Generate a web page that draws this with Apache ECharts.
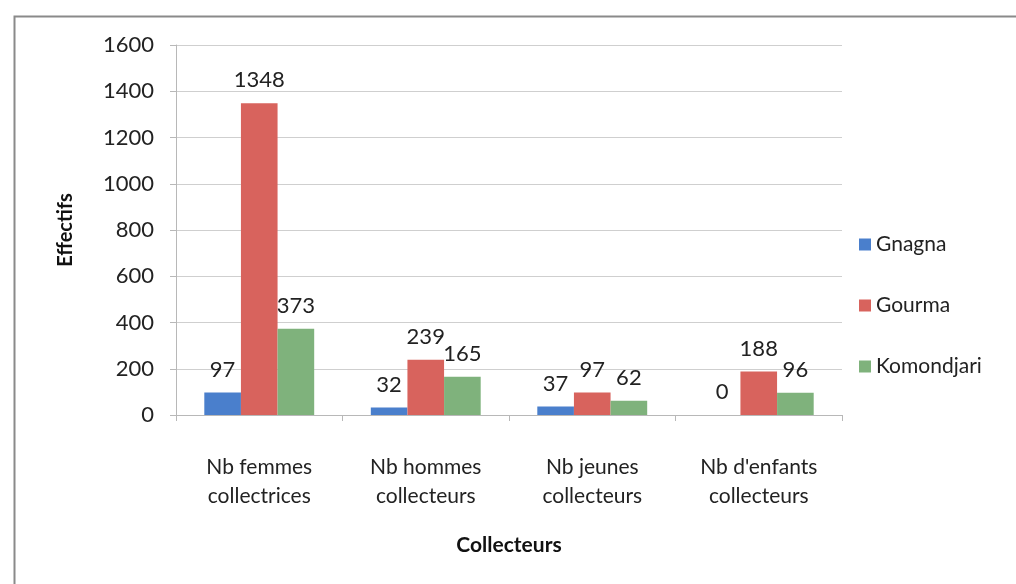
<!DOCTYPE html>
<html>
<head>
<meta charset="utf-8">
<script src="https://cdn.jsdelivr.net/npm/echarts@6/dist/echarts.min.js"></script>
<style>
  html, body { margin: 0; padding: 0; background: #fff; }
  #main { width: 1016px; height: 584px; }
</style>
</head>
<body>
<div id="main"></div>
<script>
var categories = [
    'Nb femmes\ncollectrices',
    'Nb hommes\ncollecteurs',
    'Nb jeunes\ncollecteurs',
    "Nb d'enfants\ncollecteurs"
];
var gnagna = [97, 32, 37, 0];
var gourma = [1348, 239, 97, 188];
var komondjari = [373, 165, 62, 96];

var chartDom = document.getElementById('main');
var myChart = echarts.init(chartDom);
var font = 'Lato, "Open Sans", sans-serif';

function barSeries(name, data, color) {
    return {
        name: name,
        type: 'bar',
        data: data,
        barWidth: '22%',
        barGap: '0%',
        itemStyle: { color: color },
        label: {
            show: true,
            position: 'top',
            distance: 12,
            color: '#222',
            fontSize: 22,
            fontFamily: font
        }
    };
}

var option = {
    backgroundColor: '#fff',
    textStyle: { fontFamily: font },
    graphic: [{
        type: 'rect',
        left: 12,
        top: 14,
        shape: { width: 1030, height: 600 },
        style: { fill: 'none', stroke: '#8a8a8a', lineWidth: 2 },
        silent: true
    }],
    grid: { left: 176, right: 174, top: 45, bottom: 169 },
    legend: {
        orient: 'vertical',
        left: 854,
        top: 229,
        itemWidth: 12,
        itemHeight: 12,
        itemGap: 40,
        icon: 'rect',
        textStyle: { fontSize: 21, color: '#222', fontFamily: font },
        data: ['Gnagna', 'Gourma', 'Komondjari']
    },
    xAxis: {
        type: 'category',
        data: categories,
        name: 'Collecteurs',
        nameLocation: 'middle',
        nameGap: 120,
        nameTextStyle: { fontSize: 21, fontWeight: 'bold', color: '#111', fontFamily: font },
        axisLine: { lineStyle: { color: '#b8b8b8' } },
        axisTick: { show: true, length: 6, lineStyle: { color: '#b8b8b8' } },
        axisLabel: { fontSize: 21, color: '#222', lineHeight: 29, margin: 38, fontFamily: font }
    },
    yAxis: {
        type: 'value',
        min: 0,
        max: 1600,
        interval: 200,
        name: 'Effectifs',
        nameLocation: 'middle',
        nameGap: 100,
        nameRotate: 90,
        nameTextStyle: { fontSize: 20, fontWeight: 'bold', color: '#111', fontFamily: font },
        axisLine: { show: true, lineStyle: { color: '#b8b8b8' } },
        axisTick: { show: true, length: 6, lineStyle: { color: '#b8b8b8' } },
        axisLabel: { fontSize: 22, color: '#222', margin: 22, fontFamily: font,
            formatter: function (v) { return String(v); } },
        splitLine: { lineStyle: { color: '#cfcfcf' } }
    },
    series: [
        barSeries('Gnagna', gnagna, '#4a7fcc'),
        barSeries('Gourma', gourma, '#d8635d'),
        barSeries('Komondjari', komondjari, '#7fb27c')
    ]
};

option && myChart.setOption(option);
</script>
</body>
</html>
